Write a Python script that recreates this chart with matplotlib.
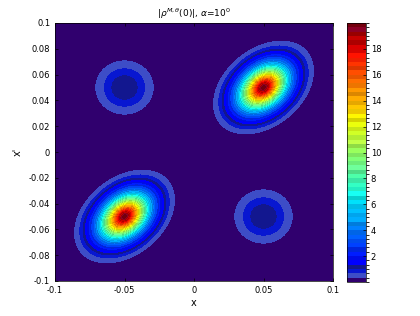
import numpy as np
import matplotlib
matplotlib.use("Agg")
import matplotlib.pyplot as plt
from matplotlib.colors import ListedColormap, BoundaryNorm

# ---- data ----
big_centers = [(0.05, 0.05), (-0.05, -0.05)]
big_peak = [20.0, 20.0]
big_scale_major = [0.018, 0.018]
big_scale_minor = [0.0124, 0.0124]
big_shape_power = [1.67, 1.67]
small_centers = [(-0.05, 0.05), (0.05, -0.05)]
small_peak = [1.3, 1.3]
small_sigma = [0.0125, 0.0125]
levels = np.linspace(0, 20, 61)
x_ticks = [-0.1, -0.05, 0, 0.05, 0.1]
y_ticks = [-0.1, -0.08, -0.06, -0.04, -0.02, 0, 0.02, 0.04, 0.06, 0.08, 0.1]
cb_ticks = [2, 4, 6, 8, 10, 12, 14, 16, 18]

x = np.linspace(-0.1, 0.1, 301)
X, Y = np.meshgrid(x, x)
Z = np.zeros_like(X)
for (cx, cy), a, su, sv, p in zip(big_centers, big_peak, big_scale_major,
                                   big_scale_minor, big_shape_power):
    u = ((X - cx) + (Y - cy)) / np.sqrt(2)
    v = ((Y - cy) - (X - cx)) / np.sqrt(2)
    q = (u / su)**2 + (v / sv)**2
    Z += a * np.exp(-q**(p / 2))
for (cx, cy), a, s in zip(small_centers, small_peak, small_sigma):
    Z += a * np.exp(-((X - cx)**2 + (Y - cy)**2) / (2 * s**2))

# colormap: jet-like with banded shading
n = len(levels) - 1
jet = plt.get_cmap('jet')
cols = []
pattern = [1.0, 0.86, 1.08, 0.93, 1.0, 0.9]
for i in range(n):
    c = np.array(jet(0.06 + 0.94 * i / (n - 1))[:3])
    f = pattern[i % len(pattern)]
    c = np.clip(c * f, 0, 1)
    cols.append(c)
cols[0] = np.array([0.19, 0.0, 0.43])
cols[1] = np.array([0.24, 0.30, 0.78])
cols[2] = np.array([0.03, 0.09, 0.82])
cols[3] = np.array([0.07, 0.09, 0.56])
cols[-1] = np.array([0.45, 0.0, 0.05])
cols[-2] = np.array([0.55, 0.0, 0.15])
cmap = ListedColormap(cols)
norm = BoundaryNorm(levels, cmap.N)

fig = plt.figure(figsize=(4.2, 3.16), dpi=100)
ax = fig.add_axes([55/420, 1 - 281/316, 278/420, 258/316])
cf = ax.contourf(X, Y, Z, levels=levels, cmap=cmap, norm=norm)
ax.set_xlim(-0.1, 0.1)
ax.set_ylim(-0.1, 0.1)
ax.set_xticks(x_ticks)
ax.set_xticklabels(['-0.1', '-0.05', '0', '0.05', '0.1'])
ax.set_yticks(y_ticks)
ax.set_yticklabels(['-0.1', '-0.08', '-0.06', '-0.04', '-0.02', '0', '0.02', '0.04', '0.06', '0.08', '0.1'])
ax.tick_params(direction='in', length=2, labelsize=6, width=0.5, top=True, right=True)
for s in ax.spines.values():
    s.set_linewidth(0.5)
ax.set_xlabel('x', fontsize=7, labelpad=2)
ax.set_ylabel("x'", fontsize=7, labelpad=4)
ax.set_title(r"$|\rho^{M,\theta}(0)|$, $\alpha$=10$^0$", fontsize=6.5, pad=4)

cax = fig.add_axes([347/420, 1 - 282/316, 19/420, 259/316])
cb = fig.colorbar(cf, cax=cax, ticks=cb_ticks)
cb.ax.tick_params(direction='in', length=2, labelsize=6, width=0.5)
cb.outline.set_linewidth(0.5)

fig.savefig('out.png', dpi=100)
